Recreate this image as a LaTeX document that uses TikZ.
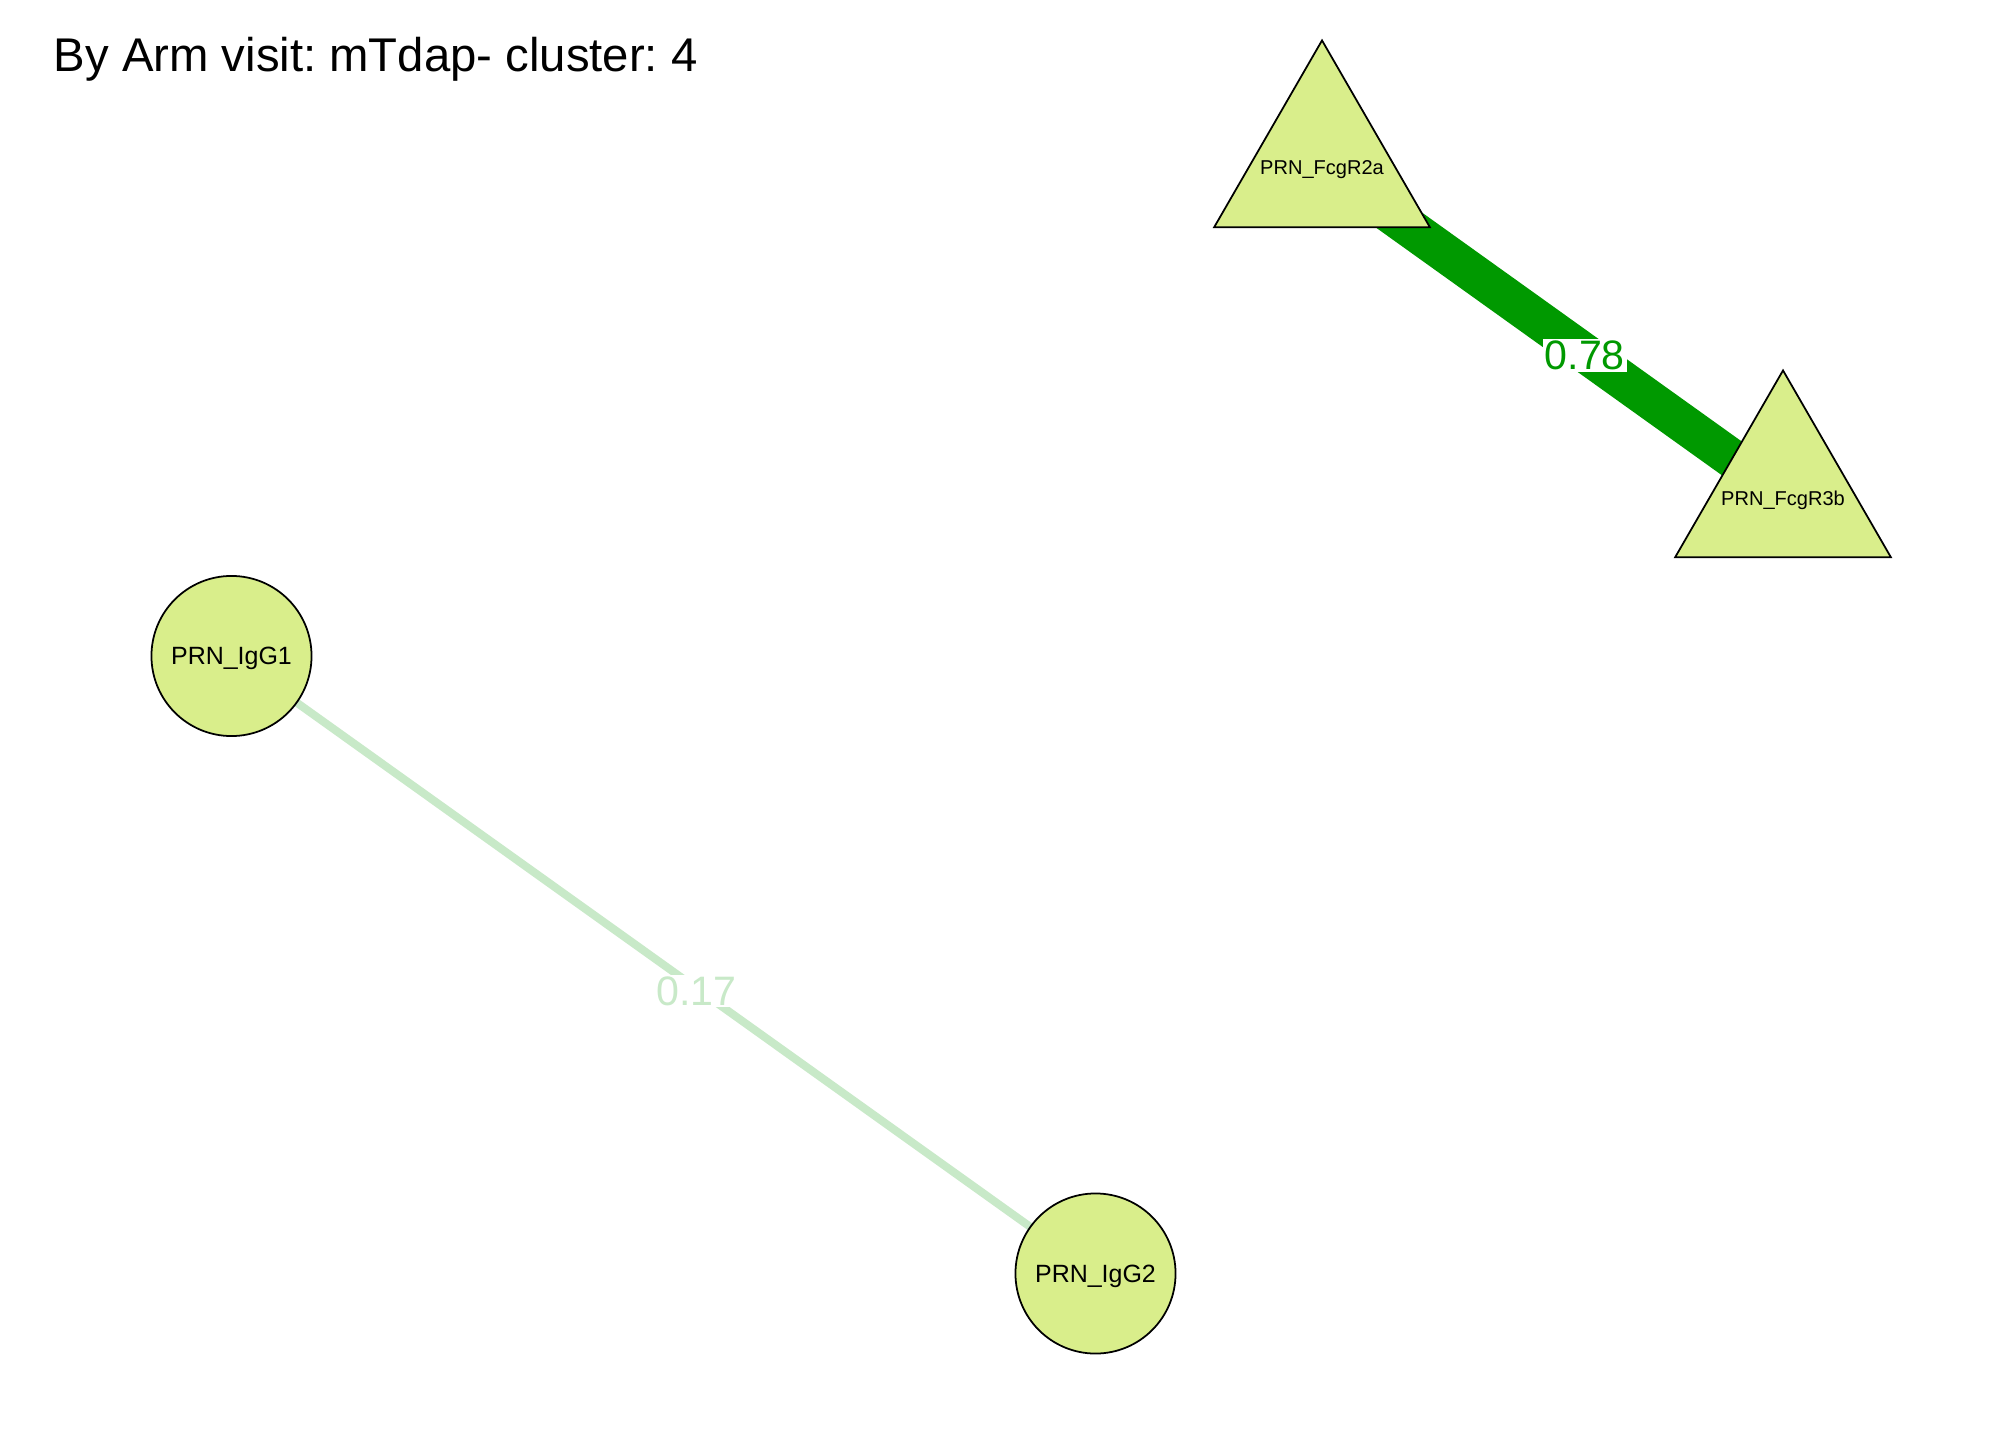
\documentclass[tikz,border=0pt]{standalone}
\usepackage{fontspec}
\setmainfont{Liberation Sans}
\usetikzlibrary{shapes.geometric,backgrounds}
\pgfdeclarelayer{edges}
\pgfsetlayers{background,edges,main}
\definecolor{nodefill}{RGB}{217,238,139}
\definecolor{strongedge}{RGB}{0,153,0}
\definecolor{weakedge}{RGB}{200,233,200}
\tikzset{
  px/.style={x=0.01cm,y=-0.01cm},
  circnode/.style={circle,draw=black,line width=0.5pt,fill=nodefill,minimum size=1.6cm,inner sep=0pt,text depth=0pt,font=\fontsize{7.1pt}{8pt}\selectfont},
  trinode/.style={regular polygon,regular polygon sides=3,draw=black,line width=0.5pt,fill=nodefill,minimum size=2.49cm,inner sep=0pt},
  trilabel/.style={font=\fontsize{5.7pt}{7pt}\selectfont,inner sep=0pt,text depth=0pt},
  edgelabel/.style={fill=white,inner sep=0.5pt,text depth=0pt,yshift=-0.025cm,font=\fontsize{11.7pt}{13pt}\selectfont},
  title/.style={anchor=base west,inner sep=0pt,font=\fontsize{13.45pt}{16pt}\selectfont}
}
\frenchspacing
\begin{document}
\begin{tikzpicture}[px]
\begin{scope}[on background layer]
\fill[white] (0,0) rectangle (2016,1440);
\end{scope}
\useasboundingbox (0,0) rectangle (2016,1440);
\node[title] (ttl) at (53,72) {By Arm visit: mTdap- cluster: 4};
\node[trinode] (fc2a) at (1322,165) {};
\node[trilabel] (fc2alab) at ([yshift=-0.03cm]fc2a.center) {PRN\_FcgR2a};
\node[trinode] (fc3b) at (1783,495) {};
\node[trilabel] (fc3blab) at ([yshift=-0.03cm]fc3b.center) {PRN\_FcgR3b};
\node[circnode] (igg1) at (231.5,656) {PRN\_IgG1};
\node[circnode] (igg2) at (1095.5,1273.5) {PRN\_IgG2};
\begin{pgfonlayer}{edges}
\draw[strongedge,line width=0.39cm] (fc2a.center) -- node[pos=0.57,edgelabel,text=strongedge] (l78) {0.78} (fc3b.center);
\draw[weakedge,line width=0.08cm] (igg1.center) -- node[pos=0.538,edgelabel,text=weakedge] (l17) {0.17} (igg2.center);
\end{pgfonlayer}
\end{tikzpicture}
\end{document}
